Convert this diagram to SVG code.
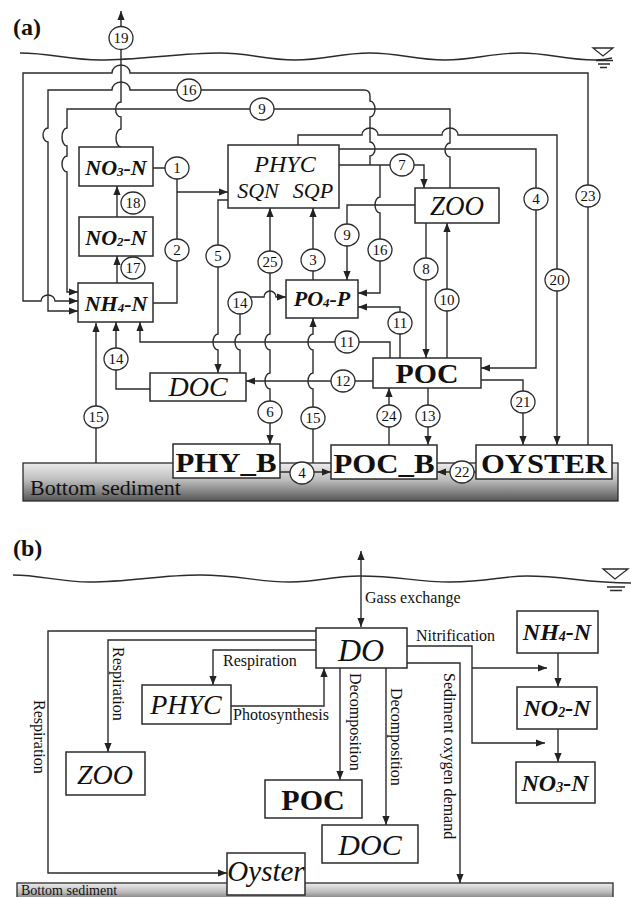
<svg xmlns="http://www.w3.org/2000/svg" width="631" height="897" viewBox="0 0 631 897">
<defs>
<marker id="ah" viewBox="0 0 10 8" refX="10" refY="4" markerWidth="9" markerHeight="8" markerUnits="userSpaceOnUse" orient="auto-start-reverse"><path d="M0,0 L10,4 L0,8 z" fill="#222"/></marker>
<linearGradient id="sed" x1="0" y1="0" x2="0" y2="1"><stop offset="0" stop-color="#ececec"/><stop offset="0.45" stop-color="#bcbcbc"/><stop offset="1" stop-color="#555"/></linearGradient>
<style>
.ln{fill:none;stroke:#2b2b2b;stroke-width:1.4}
.ar{marker-end:url(#ah)}
.ab{marker-start:url(#ah);marker-end:url(#ah)}
.bx{fill:#fff;stroke:#2b2b2b;stroke-width:1.5}
.c{fill:#fff;stroke:#2b2b2b;stroke-width:1.3}
.n{font-family:"Liberation Serif","DejaVu Serif",serif;font-size:15px;text-anchor:middle;fill:#111}
.t{font-family:"Liberation Serif","DejaVu Serif",serif;fill:#111}
.it{font-family:"Liberation Serif","DejaVu Serif",serif;font-style:italic;text-anchor:middle;fill:#111}
.bd{font-family:"Liberation Serif","DejaVu Serif",serif;font-weight:bold;text-anchor:middle;fill:#111}
.sm{font-family:"Liberation Serif","DejaVu Serif",serif;font-size:16px;fill:#111}
</style>
</defs>
<rect width="631" height="897" fill="#fff"/>

<!-- ===== (a) ===== -->
<text class="t" x="13" y="35" font-size="24" font-weight="bold">(a)</text>
<path class="ln" d="M20,53 C50,53 70,60 100,60 C140,60 180,53 220,53 C250,53 265,60 295,60 C325,60 340,53 370,53 C400,53 415,60 445,60 C475,60 490,53 520,53 C550,53 565,60 595,60 C603,60 608,59 612,58"/>
<g id="water-a">
<path d="M593,48 L613,48 L603,56 Z" fill="#fff" stroke="#2b2b2b" stroke-width="1.3"/>
<path class="ln" d="M596,60.5 H613 M598,64 H610 M600,67.5 H607"/>
</g>
<g id="sediment-a">
<rect x="23" y="463" width="595" height="38" fill="url(#sed)" stroke="#2b2b2b" stroke-width="1.3"/>
<text class="t" x="30" y="495" font-size="22">Bottom sediment</text>
</g>

<g id="connectors-a">
<path class="ln ar" d="M588,445 V73 H130 A9,8 0 0 0 112,73 H23 V301 H41 A7,6 0 0 1 55,301 H78"/>
<path class="ln ar" d="M370,165 V156 A5,7 0 0 0 370,142 V117 A5,8 0 0 0 370,101 V96 Q370,90 364,90 H130 A9,8 0 0 0 112,90 H48 V128 A5,7 0 0 0 48,142 V311 H78"/>
<path class="ln ar" d="M450,188 V157 A5,7 0 0 1 450,143 V109 H67 V128 A5,9 0 0 0 67,146 V156 A5,8 0 0 0 67,172 V292 H78"/>
<path class="ln ar" d="M121,147 A5,9 0 0 1 121,129 V117 A5,7 0 0 1 121,102 V11"/>
<path class="ln ar" d="M298,145 V135 H362 A8,7 0 0 1 378,135 H442 A8,7 0 0 1 458,135 H557 V445"/>
<path class="ln ar" d="M339,149 H536 V368 H481"/>
<path class="ln ar" d="M339,165 H424 V188"/>
<path class="ln ar" d="M380,165 V197 A5,8 0 0 0 380,213 V293 H358"/>
<path class="ln ar" d="M415,205 H347 V280"/>
<path class="ln ar" d="M426,223 V358"/>
<path class="ln ar" d="M447,358 V223"/>
<path class="ln ar" d="M400,358 V307 H358"/>
<path class="ln ar" d="M390,358 V342 H140 V322"/>
<path class="ln ar" d="M373,381 H246"/>
<path class="ln ar" d="M428,388 V445"/>
<path class="ln ar" d="M389,445 V388"/>
<path class="ln ar" d="M481,380 H523 V445"/>
<path class="ln ar" d="M476,472 H437"/>
<path class="ln ar" d="M280,472 H331"/>
<path class="ln ar" d="M313,280 V208"/>
<path class="ln ab" d="M270,208 V334 A5,8 0 0 0 270,350 V373 A5,8 0 0 0 270,389 V444"/>
<path class="ln ar" d="M313,463 V389 A5,8 0 0 1 313,373 V350 A5,8 0 0 1 313,334 V318"/>
<path class="ln ar" d="M96,463 V323"/>
<path class="ln ar" d="M228,200 H218 V334 A5,8 0 0 0 218,350 V373"/>
<path class="ln ar" d="M240,373 V350 A5,8 0 0 1 240,334 V297 H264 A6,6 0 0 1 276,297 H286"/>
<path class="ln ar" d="M150,389 H116 V322"/>
<path class="ln" d="M153,168 H177 V303 H153"/>
<path class="ln ar" d="M177,192 H228"/>
<path class="ln ar" d="M117,217 V186"/>
<path class="ln ar" d="M117,283 V256"/>
</g>

<g id="labels-a">
<g><ellipse class="c" cx="121" cy="38" rx="12" ry="11.5"/><text class="n" x="121" y="43">19</text></g>
<g><ellipse class="c" cx="189" cy="90" rx="12" ry="11"/><text class="n" x="189" y="95">16</text></g>
<g><ellipse class="c" cx="262" cy="109" rx="12" ry="11"/><text class="n" x="262" y="114">9</text></g>
<g><ellipse class="c" cx="177" cy="168" rx="12" ry="11"/><text class="n" x="177" y="173">1</text></g>
<g><ellipse class="c" cx="133" cy="203" rx="12" ry="11"/><text class="n" x="133" y="208">18</text></g>
<g><ellipse class="c" cx="177" cy="250" rx="12" ry="11"/><text class="n" x="177" y="255">2</text></g>
<g><ellipse class="c" cx="133" cy="268" rx="12" ry="11"/><text class="n" x="133" y="273">17</text></g>
<g><ellipse class="c" cx="218" cy="256" rx="12" ry="11"/><text class="n" x="218" y="261">5</text></g>
<g><ellipse class="c" cx="270" cy="262" rx="12" ry="11"/><text class="n" x="270" y="267">25</text></g>
<g><ellipse class="c" cx="313" cy="260" rx="12" ry="11"/><text class="n" x="313" y="265">3</text></g>
<g><ellipse class="c" cx="240" cy="303" rx="12" ry="11"/><text class="n" x="240" y="308">14</text></g>
<g><ellipse class="c" cx="116" cy="359" rx="12" ry="11"/><text class="n" x="116" y="364">14</text></g>
<g><ellipse class="c" cx="96" cy="417" rx="12" ry="11"/><text class="n" x="96" y="422">15</text></g>
<g><ellipse class="c" cx="347" cy="342" rx="12" ry="11"/><text class="n" x="347" y="347">11</text></g>
<g><ellipse class="c" cx="343" cy="381" rx="12" ry="11"/><text class="n" x="343" y="386">12</text></g>
<g><ellipse class="c" cx="270" cy="412" rx="12" ry="11"/><text class="n" x="270" y="417">6</text></g>
<g><ellipse class="c" cx="313" cy="418" rx="12" ry="11"/><text class="n" x="313" y="423">15</text></g>
<g><ellipse class="c" cx="302" cy="473" rx="12" ry="11"/><text class="n" x="302" y="478">4</text></g>
<g><ellipse class="c" cx="389" cy="416" rx="12" ry="11"/><text class="n" x="389" y="421">24</text></g>
<g><ellipse class="c" cx="428" cy="416" rx="12" ry="11"/><text class="n" x="428" y="421">13</text></g>
<g><ellipse class="c" cx="462" cy="472" rx="12" ry="11"/><text class="n" x="462" y="477">22</text></g>
<g><ellipse class="c" cx="523" cy="402" rx="12" ry="11"/><text class="n" x="523" y="407">21</text></g>
<g><ellipse class="c" cx="402" cy="165" rx="12" ry="11"/><text class="n" x="402" y="170">7</text></g>
<g><ellipse class="c" cx="347" cy="235" rx="12" ry="11"/><text class="n" x="347" y="240">9</text></g>
<g><ellipse class="c" cx="380" cy="250" rx="12" ry="11"/><text class="n" x="380" y="255">16</text></g>
<g><ellipse class="c" cx="426" cy="269" rx="12" ry="11"/><text class="n" x="426" y="274">8</text></g>
<g><ellipse class="c" cx="447" cy="300" rx="12" ry="11"/><text class="n" x="447" y="305">10</text></g>
<g><ellipse class="c" cx="400" cy="323" rx="12" ry="11"/><text class="n" x="400" y="328">11</text></g>
<g><ellipse class="c" cx="536" cy="199" rx="12" ry="11"/><text class="n" x="536" y="204">4</text></g>
<g><ellipse class="c" cx="557" cy="280" rx="12" ry="11"/><text class="n" x="557" y="285">20</text></g>
<g><ellipse class="c" cx="588" cy="196" rx="12" ry="11"/><text class="n" x="588" y="201">23</text></g>
</g>

<g id="NO3N-a"><rect class="bx" x="79" y="147" width="74" height="39"/><text class="it" x="116" y="175" font-size="22" font-weight="bold">NO<tspan font-size="13" dy="1">3</tspan><tspan dy="-1">-N</tspan></text></g>
<g id="NO2N-a"><rect class="bx" x="79" y="217" width="74" height="39"/><text class="it" x="116" y="245" font-size="22" font-weight="bold">NO<tspan font-size="13" dy="1">2</tspan><tspan dy="-1">-N</tspan></text></g>
<g id="NH4N-a"><rect class="bx" x="78" y="283" width="75" height="39"/><text class="it" x="116" y="311" font-size="22" font-weight="bold">NH<tspan font-size="13" dy="1">4</tspan><tspan dy="-1">-N</tspan></text></g>
<g id="PHYC-a"><rect class="bx" x="228" y="145" width="111" height="63"/><text class="it" x="285" y="172" font-size="24">PHYC</text><text class="it" x="258" y="198" font-size="22">SQN</text><text class="it" x="313" y="198" font-size="22">SQP</text></g>
<g id="PO4P-a"><rect class="bx" x="286" y="280" width="72" height="38"/><text class="it" x="322" y="306" font-size="22" font-weight="bold">PO<tspan font-size="13" dy="1">4</tspan><tspan dy="-1">-P</tspan></text></g>
<g id="ZOO-a"><rect class="bx" x="415" y="188" width="84" height="35"/><text class="it" x="457" y="215" font-size="27">ZOO</text></g>
<g id="DOC-a"><rect class="bx" x="150" y="373" width="96" height="28"/><text class="it" x="198" y="396" font-size="28">DOC</text></g>
<g id="POC-a"><rect class="bx" x="373" y="358" width="108" height="30"/><text class="bd" x="427" y="383" font-size="28" textLength="63" lengthAdjust="spacingAndGlyphs">POC</text></g>
<g id="PHYB-a"><rect class="bx" x="173" y="444" width="107" height="34"/><text class="bd" x="226" y="472" font-size="28" textLength="101" lengthAdjust="spacingAndGlyphs">PHY_B</text></g>
<g id="POCB-a"><rect class="bx" x="331" y="445" width="106" height="34"/><text class="bd" x="384" y="473" font-size="28" textLength="101" lengthAdjust="spacingAndGlyphs">POC_B</text></g>
<g id="OYSTER-a"><rect class="bx" x="476" y="445" width="136" height="34"/><text class="bd" x="544" y="473" font-size="28" textLength="126" lengthAdjust="spacingAndGlyphs">OYSTER</text></g>

<!-- ===== (b) ===== -->
<text class="t" x="13" y="556" font-size="24" font-weight="bold">(b)</text>
<path class="ln" d="M13,575 C40,575 60,582 90,582 C130,582 160,575 200,575 C240,575 255,582 290,582 C320,582 330,576 360,576 C400,576 415,582 450,582 C490,582 500,576 527,576 C565,576 585,583 631,583"/>
<g id="water-b">
<path d="M603,569 L628,569 L615,579 Z" fill="#fff" stroke="#2b2b2b" stroke-width="1.3"/>
<path class="ln" d="M607,587 H625 M610,590.5 H622"/>
</g>
<g id="sediment-b">
<rect x="17" y="883" width="596" height="20" fill="url(#sed)" stroke="#2b2b2b" stroke-width="1.3"/>
<text class="t" x="21" y="895" font-size="14">Bottom sediment</text>
</g>

<g id="connectors-b">
<path class="ln ab" d="M361,551 V627"/>
<path class="ln ar" d="M316,631 H48 V873 H227"/>
<path class="ln ar" d="M316,640 H108 V752"/>
<path class="ln ar" d="M316,650 H213 V685"/>
<path class="ln ar" d="M231,706 H324 V668"/>
<path class="ln ar" d="M340,668 V780"/>
<path class="ln ar" d="M386,668 V825"/>
<path class="ln ar" d="M407,646 H472 V743 H545"/>
<path class="ln ar" d="M472,668 H547"/>
<path class="ln ar" d="M407,663 H460 V883"/>
<path class="ln ar" d="M558,653 V687"/>
<path class="ln ar" d="M558,729 V762"/>
</g>

<g id="labels-b">
<text class="sm" x="365" y="603">Gass exchange</text>
<text class="sm" x="416" y="641">Nitrification</text>
<text class="sm" x="223" y="666">Respiration</text>
<text class="sm" x="233" y="720" font-size="15">Photosynthesis</text>
<text class="sm" transform="translate(34,700) rotate(90)">Respiration</text>
<text class="sm" transform="translate(113,647) rotate(90)">Respiration</text>
<text class="sm" transform="translate(350,673) rotate(90)">Decomposition</text>
<text class="sm" transform="translate(391,688) rotate(90)">Decomposition</text>
<text class="sm" transform="translate(444,673) rotate(90)">Sediment oxygen demand</text>
</g>

<g id="DO-b"><rect class="bx" x="316" y="628" width="91" height="40"/><text class="it" x="361" y="661" font-size="32">DO</text></g>
<g id="NH4N-b"><rect class="bx" x="517" y="611" width="81" height="42"/><text class="it" x="557" y="640" font-size="24" font-weight="bold">NH<tspan font-size="14" dy="1">4</tspan><tspan dy="-1">-N</tspan></text></g>
<g id="NO2N-b"><rect class="bx" x="517" y="687" width="80" height="42"/><text class="it" x="557" y="716" font-size="24" font-weight="bold">NO<tspan font-size="14" dy="1">2</tspan><tspan dy="-1">-N</tspan></text></g>
<g id="NO3N-b"><rect class="bx" x="516" y="762" width="79" height="41"/><text class="it" x="555" y="791" font-size="24" font-weight="bold">NO<tspan font-size="14" dy="1">3</tspan><tspan dy="-1">-N</tspan></text></g>
<g id="PHYC-b"><rect class="bx" x="142" y="685" width="89" height="39"/><text class="it" x="186" y="714" font-size="28">PHYC</text></g>
<g id="ZOO-b"><rect class="bx" x="66" y="752" width="79" height="43"/><text class="it" x="105" y="784" font-size="28">ZOO</text></g>
<g id="POC-b"><rect class="bx" x="265" y="780" width="97" height="38"/><text class="bd" x="313" y="810" font-size="30">POC</text></g>
<g id="DOC-b"><rect class="bx" x="322" y="825" width="96" height="38"/><text class="it" x="370" y="855" font-size="30">DOC</text></g>
<g id="Oyster-b"><rect class="bx" x="227" y="853" width="78" height="42"/><text class="it" x="266" y="881" font-size="29">Oyster</text></g>
</svg>
